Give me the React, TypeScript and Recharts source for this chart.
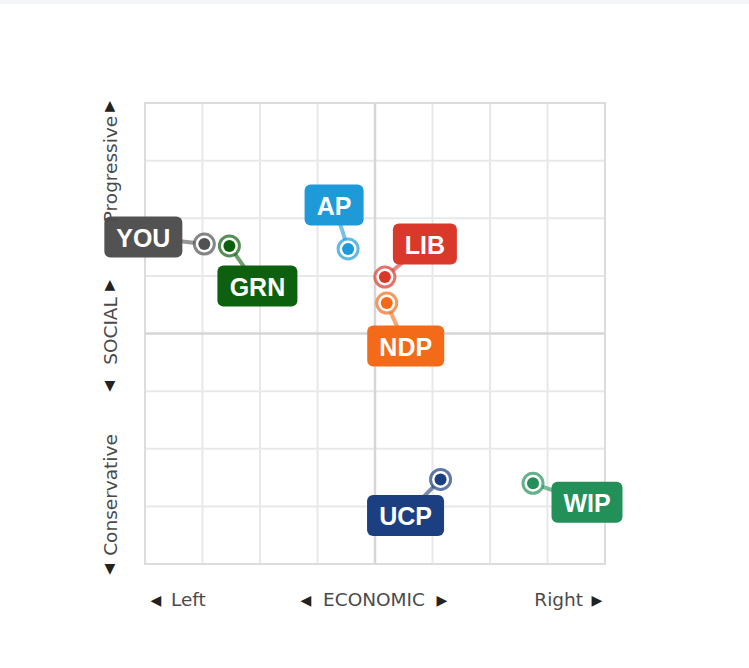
import { ScatterChart, Scatter, XAxis, YAxis, CartesianGrid, ReferenceLine, ReferenceArea } from "recharts";

// Party positions on the political compass: economic (left/right) and social
// (progressive/conservative), both on a -10..10 scale.
const parties = ["YOU", "GRN", "AP", "LIB", "NDP", "UCP", "WIP"];
const economic = [-7.42, -6.33, -1.17, 0.43, 0.51, 2.85, 6.87];
const social = [3.88, 3.8, 3.67, 2.45, 1.32, -6.33, -6.5];
const gridTicks = [-7.5, -5, -2.5, 2.5, 5, 7.5];

const COLORS = ["#525252", "#0d600d", "#1e9ad8", "#d9382b", "#f36b18", "#1b3f80", "#23905a"];
// label box centre relative to the marker, in px
const LABEL_OFFSETS: [number, number][] = [
  [-61, -7],
  [28, 40],
  [-14, -44],
  [40, -33],
  [19, 43],
  [-35, 36],
  [54, 19],
];

const W = 749;
const H = 668;
const LABEL_FONT = "bold 25px 'Liberation Sans', Arial, sans-serif";
const AXIS_FONT = "'DejaVu Sans', Verdana, sans-serif";

let ctx: CanvasRenderingContext2D | null = null;
function textWidth(s: string): number {
  if (!ctx) ctx = document.createElement("canvas").getContext("2d");
  if (!ctx) return s.length * 16;
  ctx.font = LABEL_FONT;
  return ctx.measureText(s).width;
}

function PartyMarker(props: any) {
  const { cx, cy, idx } = props;
  if (cx == null || cy == null) return null;
  const color = COLORS[idx];
  const [dx, dy] = LABEL_OFFSETS[idx];
  const name = parties[idx];
  const bw = Math.round(textWidth(name) + 24);
  const bh = 41;
  const bx = cx + dx;
  const by = cy + dy;
  return (
    <g>
      <line x1={cx} y1={cy} x2={bx} y2={by} stroke={color} strokeOpacity={0.6} strokeWidth={4} />
      <circle cx={cx} cy={cy} r={10} fill="#fff" stroke={color} strokeOpacity={0.7} strokeWidth={3} />
      <circle cx={cx} cy={cy} r={6} fill={color} />
      <rect x={bx - bw / 2} y={by - bh / 2} width={bw} height={bh} rx={6} ry={6} fill={color} />
      <text
        x={bx}
        y={by + 1}
        textAnchor="middle"
        dominantBaseline="central"
        fill="#fff"
        style={{ font: LABEL_FONT }}
      >
        {name}
      </text>
    </g>
  );
}

function AxisTitles() {
  const txt = { fill: "#4a4a4a", fontFamily: AXIS_FONT, fontSize: 18.5 };
  const arrow = { fill: "#222", fontFamily: AXIS_FONT, fontSize: 14 };
  const vx = 117;
  return (
    <svg width={W} height={H} style={{ position: "absolute", left: 0, top: 0, pointerEvents: "none" }}>
      {/* economic axis */}
      <text x={156} y={605} textAnchor="middle" {...arrow}>◀</text>
      <text x={171} y={606} {...txt}>Left</text>
      <text x={306} y={605} textAnchor="middle" {...arrow}>◀</text>
      <text x={374} y={606} textAnchor="middle" {...txt}>ECONOMIC</text>
      <text x={442} y={605} textAnchor="middle" {...arrow}>▶</text>
      <text x={583} y={606} textAnchor="end" {...txt}>Right</text>
      <text x={597} y={605} textAnchor="middle" {...arrow}>▶</text>
      {/* social axis */}
      <text x={110} y={110} textAnchor="middle" {...arrow}>▲</text>
      <text x={vx} y={169} textAnchor="middle" transform={`rotate(-90, ${vx}, 169)`} {...txt}>Progressive</text>
      <text x={110} y={289} textAnchor="middle" {...arrow}>▲</text>
      <text x={vx} y={331} textAnchor="middle" transform={`rotate(-90, ${vx}, 331)`} {...txt}>SOCIAL</text>
      <text x={110} y={390} textAnchor="middle" {...arrow}>▼</text>
      <text x={vx} y={495} textAnchor="middle" transform={`rotate(-90, ${vx}, 495)`} {...txt}>Conservative</text>
      <text x={110} y={573} textAnchor="middle" {...arrow}>▼</text>
    </svg>
  );
}

export default function App() {
  const data = parties.map((p, i) => ({ name: p, x: economic[i], y: social[i], idx: i }));
  return (
    <div style={{ position: "absolute", left: 0, top: 0, width: W, height: H, background: "#fff" }}>
      <div style={{ position: "absolute", left: 0, top: 0, width: W, height: 4, background: "#f4f5f7" }} />
      <ScatterChart width={W} height={H} margin={{ top: 103, right: 144, bottom: 104, left: 145 }}>
        <XAxis type="number" dataKey="x" domain={[-10, 10]} hide />
        <YAxis type="number" dataKey="y" domain={[-10, 10]} hide />
        <CartesianGrid
          verticalValues={gridTicks}
          horizontalValues={gridTicks}
          stroke="#e8e8e8"
          strokeWidth={2}
        />
        <ReferenceLine x={0} stroke="#d6d6d6" strokeWidth={2.5} />
        <ReferenceLine y={0} stroke="#d6d6d6" strokeWidth={2.5} />
        <ReferenceArea x1={-10} x2={10} y1={-10} y2={10} fill="none" stroke="#dcdcdc" strokeWidth={2} />
        {data.map((d) => (
          <Scatter
            key={d.name}
            name={d.name}
            data={[d]}
            isAnimationActive={false}
            shape={(p: any) => <PartyMarker {...p} idx={d.idx} />}
          />
        ))}
      </ScatterChart>
      <AxisTitles />
    </div>
  );
}
